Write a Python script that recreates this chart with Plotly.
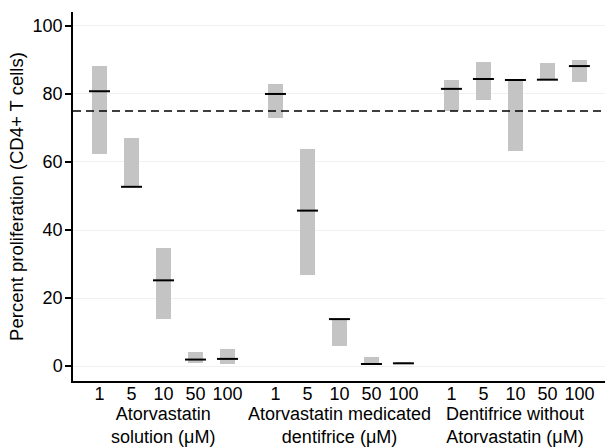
import plotly.graph_objects as go

# ---- data ----
concentrations = ["1", "5", "10", "50", "100"]
group_names = [
    "Atorvastatin<br>solution (μM)",
    "Atorvastatin medicated<br>dentifrice (μM)",
    "Dentifrice without<br>Atorvastatin (μM)",
]
low_values = [62.4, 52.7, 13.8, 0.9, 0.7,
              73.0, 26.8, 5.8, 0.6, 0.6,
              75.0, 78.2, 63.3, 84.2, 83.4]
high_values = [88.2, 67.1, 34.8, 4.1, 4.9,
               82.8, 63.9, 13.8, 2.8, 0.9,
               84.1, 89.4, 84.1, 89.0, 89.9]
median_values = [80.8, 52.7, 25.2, 1.9, 2.1,
                 80.0, 45.7, 13.8, 0.6, 0.8,
                 81.5, 84.4, 84.1, 84.2, 88.2]
reference_level = 75
y_tick_values = [0, 20, 40, 60, 80, 100]
y_title = "Percent proliferation (CD4+ T cells)"

# ---- layout helpers ----
group_gap = 5.5
positions = []
tick_text = []
for g in range(len(group_names)):
    for i, c in enumerate(concentrations):
        positions.append(g * group_gap + i)
        tick_text.append(c)
group_centers = [g * group_gap + (len(concentrations) - 1) / 2 for g in range(len(group_names))]

FONT = "Liberation Sans, Arial, sans-serif"

fig = go.Figure()
fig.add_trace(go.Bar(
    x=positions,
    y=[h - l for h, l in zip(high_values, low_values)],
    base=low_values,
    width=0.49,
    marker=dict(color="#c4c4c4", line=dict(width=0)),
    hoverinfo="skip",
    showlegend=False,
))
fig.add_trace(go.Scatter(
    x=positions,
    y=median_values,
    mode="markers",
    marker=dict(symbol="line-ew", size=15, line=dict(color="black", width=2)),
    showlegend=False,
    hoverinfo="skip",
))

fig.add_shape(type="line", xref="paper", yref="y", x0=0, x1=1,
              y0=reference_level, y1=reference_level,
              line=dict(color="black", width=1.5, dash="8px,5px"), layer="above")

for cx, name in zip(group_centers, group_names):
    fig.add_annotation(x=cx, xref="x", y=-0.057, yref="paper", yanchor="top",
                       text=name, showarrow=False,
                       font=dict(family=FONT, size=18, color="black"))

fig.update_layout(
    width=605, height=448,
    margin=dict(l=73, r=0, t=12, b=67),
    plot_bgcolor="white", paper_bgcolor="white",
    font=dict(family=FONT, size=18, color="black"),
    bargap=0,
)
fig.update_xaxes(
    range=[-0.828, 15.8],
    tickvals=positions, ticktext=tick_text,
    showgrid=False, zeroline=False,
    showline=True, linecolor="black", linewidth=1.5,
    ticks="", tickfont=dict(size=18),
    ticklabelstandoff=-4,
    automargin=False,
)
fig.update_yaxes(
    range=[-4.4, 104.1],
    tickvals=y_tick_values,
    showgrid=True, gridcolor="#f0f0f0", gridwidth=1,
    zeroline=False,
    showline=True, linecolor="black", linewidth=1.5,
    ticks="outside", ticklen=6, tickwidth=1.5, tickcolor="black",
    tickfont=dict(size=18),
    ticklabelstandoff=-1,
    title=dict(text=y_title, font=dict(size=18.5), standoff=4),
    automargin=False,
)

fig.write_html("out.html", config={"displayModeBar": False},
               post_script="document.body.style.margin='0px';")
